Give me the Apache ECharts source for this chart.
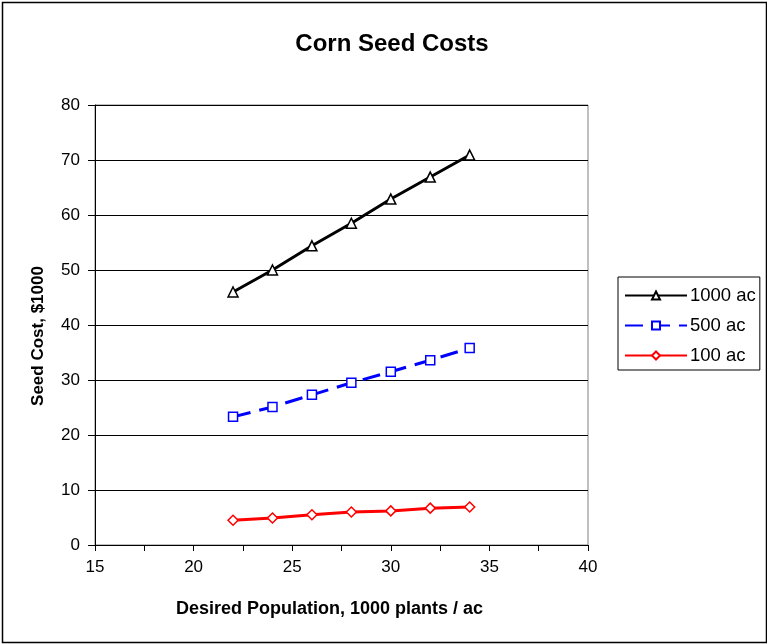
<!DOCTYPE html>
<html><head><meta charset="utf-8">
<script src="https://cdn.jsdelivr.net/npm/echarts@6/dist/echarts.min.js"></script>
<style>html,body{margin:0;padding:0;background:#fff}#c{width:767px;height:644px}</style>
</head><body><div id="c"></div>
<script>
const populations = [22, 24, 26, 28, 30, 32, 34];
const cost1000 = [46.0, 50.0, 54.4, 58.5, 62.9, 66.9, 70.9];
const cost500 = [23.3, 25.1, 27.3, 29.5, 31.5, 33.6, 35.8];
const cost100 = [4.5, 4.9, 5.5, 6.0, 6.2, 6.7, 6.9];
const seriesNames = ['1000 ac', '500 ac', '100 ac'];

const pair = arr => populations.map((x, i) => [x, arr[i]]);
const font = 'Liberation Sans, Arial, sans-serif';
const chart = echarts.init(document.getElementById('c'));
chart.setOption({
  animation: false,
  backgroundColor: '#fff',
  title: {text: 'Corn Seed Costs', left: 387, top: 27, textAlign: 'center',
    textStyle: {fontFamily: font, fontSize: 24, fontWeight: 'bold', color: '#000'}},
  grid: {left: 95, right: 179, top: 105, bottom: 99, show: true, borderColor: '#808080', borderWidth: 1},
  legend: {
    orient: 'vertical', left: 618, top: 277, width: 144,
    borderColor: '#000', borderWidth: 1, padding: [9, 4, 5, 6],
    itemWidth: 62, itemHeight: 10, itemGap: 11,
    textStyle: {fontFamily: font, fontSize: 18.5, color: '#000', padding: [0, 0, 0, -2]},
    data: seriesNames
  },
  xAxis: {
    type: 'value', min: 15, max: 40, interval: 5,
    name: 'Desired Population, 1000 plants / ac', nameLocation: 'middle', nameGap: 55,
    nameTextStyle: {fontFamily: font, fontSize: 18, fontWeight: 'bold', color: '#000', padding: [0, 24, 0, 0]},
    axisLine: {show: true, onZero: false, lineStyle: {color: '#000', width: 1}},
    axisTick: {show: true, inside: false, length: 6, lineStyle: {color: '#000'}},
    minorTick: {show: true, splitNumber: 2, length: 6, lineStyle: {color: '#000'}},
    axisLabel: {fontFamily: font, fontSize: 17, color: '#000', margin: 14},
    splitLine: {show: false}
  },
  yAxis: {
    type: 'value', min: 0, max: 80, interval: 10,
    name: 'Seed Cost, $1000', nameLocation: 'middle', nameGap: 48,
    nameTextStyle: {fontFamily: font, fontSize: 17, fontWeight: 'bold', color: '#000', padding: [0, 22, 0, 0]},
    axisLine: {show: true, lineStyle: {color: '#000', width: 1}},
    axisTick: {show: true, inside: false, length: 7, lineStyle: {color: '#000'}},
    axisLabel: {fontFamily: font, fontSize: 17, color: '#000', margin: 15},
    splitLine: {show: true, lineStyle: {color: '#000', width: 1}}
  },
  series: [
    {name: seriesNames[0], type: 'line', data: pair(cost1000), symbol: 'triangle', symbolSize: 10,
     lineStyle: {color: '#000', width: 3}, itemStyle: {color: '#fff', borderColor: '#000', borderWidth: 1.5}},
    {name: seriesNames[1], type: 'line', data: pair(cost500), symbol: 'rect', symbolSize: 9,
     lineStyle: {color: '#0000ff', width: 3, type: [18, 9]}, itemStyle: {color: '#fff', borderColor: '#0000ff', borderWidth: 1.5}},
    {name: seriesNames[2], type: 'line', data: pair(cost100), symbol: 'diamond', symbolSize: 10,
     lineStyle: {color: '#ff0000', width: 3}, itemStyle: {color: '#fff', borderColor: '#ff0000', borderWidth: 1.5}}
  ],
  graphic: [{type: 'rect', left: 0, top: 0, silent: true,
    shape: {x: 1, y: 1, width: 764, height: 640},
    style: {fill: 'none', stroke: '#000', lineWidth: 1.5}}]
});
</script></body></html>
